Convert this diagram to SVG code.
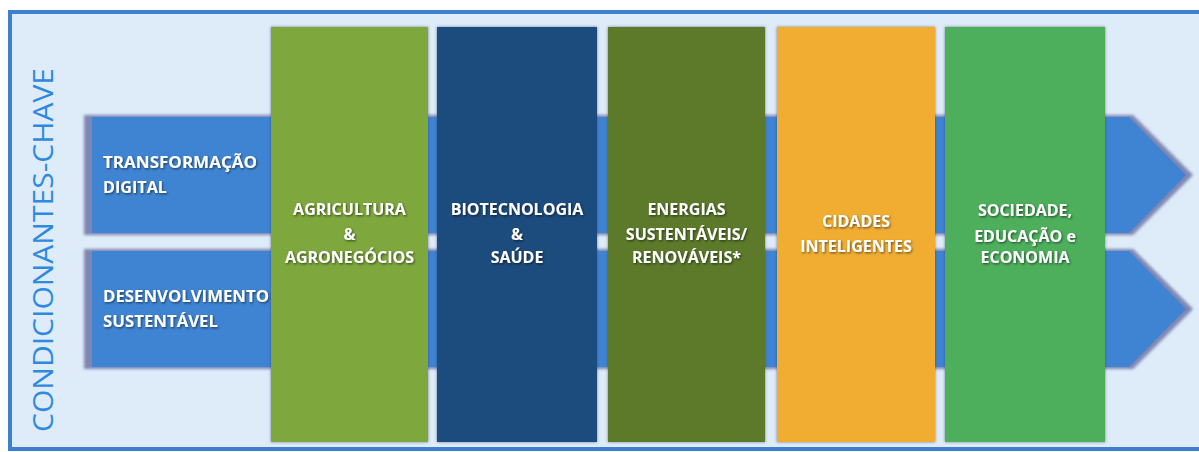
<svg xmlns="http://www.w3.org/2000/svg" width="1199" height="452" viewBox="0 0 1199 452">
  <defs>
    <filter id="ts" x="-10%" y="-30%" width="120%" height="160%">
      <feDropShadow dx="1" dy="1.2" stdDeviation="0.8" flood-color="#000" flood-opacity="0.55"/>
    </filter>
    <filter id="blur" x="-5%" y="-10%" width="110%" height="120%">
      <feGaussianBlur stdDeviation="1.5"/>
    </filter>
    <filter id="cs" x="-5%" y="-5%" width="110%" height="110%">
      <feDropShadow dx="0" dy="0" stdDeviation="1.5" flood-color="#2a3560" flood-opacity="0.6"/>
    </filter>
  </defs>
  <style>
    .lbl { font-family: "Open Sans", "Liberation Sans", sans-serif; font-weight: 700; fill: #ffffff; font-size: 16.5px; }
    .cl { font-size: 16px; }
    .band { fill: #3f84d2; }
    .bandsh { fill: #7f86b4; }
    .col { filter: url(#cs); }
  </style>

  <rect x="0" y="0" width="1199" height="452" fill="#ffffff"/>
  <!-- frame -->
  <rect x="10" y="12" width="1195" height="437" fill="#deebf8" stroke="#3d80d0" stroke-width="4"/>

  <g id="title">
    <text x="0" y="0" transform="translate(53,432) rotate(-90)" font-family="Open Sans, Liberation Sans, sans-serif" font-size="28" fill="#2e8ae0" textLength="364" lengthAdjust="spacingAndGlyphs">CONDICIONANTES-CHAVE</text>
  </g>

  <g id="connectors">
    <g id="band-transformacao">
      <polygon class="bandsh" filter="url(#blur)" points="84,115 1133,115 1193,175 1133,235 84,235"/>
      <polygon class="band" points="92,117 1129,117 1186,175 1129,233 92,233"/>
    </g>
    <g id="band-desenvolvimento">
      <polygon class="bandsh" filter="url(#blur)" points="84,249 1133,249 1193,309 1133,369 84,369"/>
      <polygon class="band" points="92,251 1129,251 1186,309 1129,367 92,367"/>
    </g>
  </g>

  <g id="lbl-transformacao">
    <text class="lbl" x="103" y="168" filter="url(#ts)" textLength="154" lengthAdjust="spacingAndGlyphs">TRANSFORMAÇÃO</text>
    <text class="lbl" x="103" y="193" filter="url(#ts)" textLength="64" lengthAdjust="spacingAndGlyphs">DIGITAL</text>
  </g>
  <g id="lbl-desenvolvimento">
    <text class="lbl" x="103" y="302" filter="url(#ts)" textLength="166" lengthAdjust="spacingAndGlyphs">DESENVOLVIMENTO</text>
    <text class="lbl" x="103" y="327" filter="url(#ts)" textLength="115" lengthAdjust="spacingAndGlyphs">SUSTENTÁVEL</text>
  </g>

  <g id="agricultura">
    <rect class="col" x="271" y="27" width="157" height="415" fill="#7ea73c"/>
    <text class="lbl cl" text-anchor="middle" x="349.5" y="215" filter="url(#ts)">AGRICULTURA</text>
    <text class="lbl cl" text-anchor="middle" x="349.5" y="240" filter="url(#ts)">&amp;</text>
    <text class="lbl cl" text-anchor="middle" x="349.5" y="263" filter="url(#ts)">AGRONEGÓCIOS</text>
  </g>
  <g id="biotecnologia">
    <rect class="col" x="437" y="27" width="160" height="415" fill="#1c4b7e"/>
    <text class="lbl cl" text-anchor="middle" x="517" y="215" filter="url(#ts)">BIOTECNOLOGIA</text>
    <text class="lbl cl" text-anchor="middle" x="517" y="240" filter="url(#ts)">&amp;</text>
    <text class="lbl cl" text-anchor="middle" x="517" y="263" filter="url(#ts)">SAÚDE</text>
  </g>
  <g id="energias">
    <rect class="col" x="608" y="27" width="157" height="415" fill="#5b7a2b"/>
    <text class="lbl cl" text-anchor="middle" x="686.5" y="215" filter="url(#ts)">ENERGIAS</text>
    <text class="lbl cl" text-anchor="middle" x="686.5" y="240" filter="url(#ts)">SUSTENTÁVEIS/</text>
    <text class="lbl cl" text-anchor="middle" x="686.5" y="263" filter="url(#ts)">RENOVÁVEIS*</text>
  </g>
  <g id="cidades">
    <rect class="col" x="777" y="27" width="158" height="415" fill="#f0ad30"/>
    <text class="lbl cl" text-anchor="middle" x="856" y="227" filter="url(#ts)">CIDADES</text>
    <text class="lbl cl" text-anchor="middle" x="856" y="252" filter="url(#ts)">INTELIGENTES</text>
  </g>
  <g id="sociedade">
    <rect class="col" x="945" y="27" width="160" height="415" fill="#4daf5b"/>
    <text class="lbl cl" text-anchor="middle" x="1025" y="216" filter="url(#ts)">SOCIEDADE,</text>
    <text class="lbl cl" text-anchor="middle" x="1025" y="242" filter="url(#ts)">EDUCAÇÃO e</text>
    <text class="lbl cl" text-anchor="middle" x="1025" y="263" filter="url(#ts)">ECONOMIA</text>
  </g>
</svg>
